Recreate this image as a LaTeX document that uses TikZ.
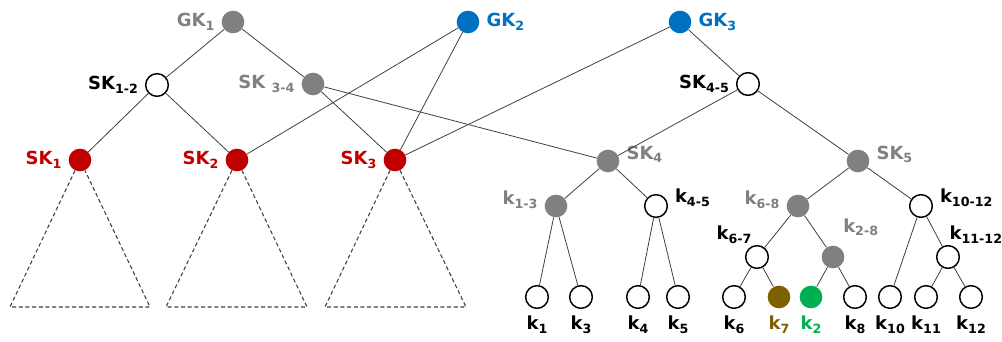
\documentclass[tikz,border=0pt]{standalone}
\usepackage{fontspec}
\setmainfont{DejaVu Sans}
\usepackage{xcolor}
\usetikzlibrary{positioning}
\definecolor{KeyRed}{HTML}{C00000}
\definecolor{KeyBlue}{HTML}{0070C0}
\definecolor{KeyGray}{HTML}{808080}
\definecolor{KeyBrown}{HTML}{7F6000}
\definecolor{KeyGreen}{HTML}{00B050}
\newcommand\ksub[1]{\raisebox{-2.7pt}{\fontsize{9.5}{10}\selectfont#1}}

\begin{document}
\begin{tikzpicture}[x=0.75pt, y=-0.75pt,
                    every node/.style={font=\bfseries\fontsize{13.5}{15}\selectfont},
                    every label/.style={inner sep=1pt},
                    label distance=4pt,
                    key/.style={circle, minimum size=17pt, inner sep=0pt},
                    plain/.style={key, draw=black, line width=1.1pt, fill=white},
                    shared/.style={key, fill=KeyGray},
                    group/.style={key, fill=KeyBlue},
                    session/.style={key, fill=KeyRed},
                    edge/.style={draw=black!75, line width=0.6pt},
                    subtree/.style={draw=black!75, line width=0.8pt, dash pattern=on 3pt off 2pt}]
\useasboundingbox (0,0) rectangle (1002,342);
% group keys
\node[shared, label={[text=KeyGray]left:GK\ksub{1}}] (gk1) at (233,22) {};
\node[group, label={[text=KeyBlue]right:GK\ksub{2}}] (gk2) at (468,22) {};
\node[group, label={[text=KeyBlue]right:GK\ksub{3}}] (gk3) at (680,22) {};
% sub-group keys
\node[plain, label={left:SK\ksub{1-2}}] (sk12) at (157,85) {};
\node[shared, label={[text=KeyGray]left:SK \ksub{3-4}}] (sk34) at (313,84) {};
\node[plain, label={left:SK\ksub{4-5}}] (sk45) at (748,84) {};
\node[session, label={[text=KeyRed]left:SK\ksub{1}}] (sk1) at (80,160) {};
\node[session, label={[text=KeyRed]left:SK\ksub{2}}] (sk2) at (237,160) {};
\node[session, label={[text=KeyRed]left:SK\ksub{3}}] (sk3) at (395,160) {};
\node[shared, label={[text=KeyGray, yshift=5pt]right:SK\ksub{4}}] (sk4) at (608,161) {};
\node[shared, label={[text=KeyGray, yshift=5pt]right:SK\ksub{5}}] (sk5) at (858,161) {};
% inner keys
\node[shared, label={[text=KeyGray, yshift=4.5pt]left:k\ksub{1-3}}] (k13) at (556,206) {};
\node[plain, label={[yshift=6pt]right:k\ksub{4-5}}] (k45) at (656,206) {};
\node[shared, label={[text=KeyGray, yshift=4.5pt]left:k\ksub{6-8}}] (k68) at (798,206) {};
\node[plain, label={[yshift=6pt]right:k\ksub{10-12}}] (k1012) at (921,206) {};
\node[plain, label={[anchor=south east, xshift=-3pt, label distance=0pt]above:k\ksub{6-7}}] (k67) at (757,257) {};
\node[shared, label={[text=KeyGray, anchor=south west, xshift=6.5pt, label distance=6pt]above:k\ksub{2-8}}] (k28) at (833,257) {};
\node[plain, label={[anchor=south west, label distance=0pt]above:k\ksub{11-12}}] (k1112) at (948,257) {};
% leaf keys
\tikzset{leaf/.style={plain, label distance=9pt}}
\node[leaf, label={below:k\ksub{1}}] (k1) at (537,297) {};
\node[leaf, label={below:k\ksub{3}}] (k3) at (581,297) {};
\node[leaf, label={below:k\ksub{4}}] (k4) at (638,297) {};
\node[leaf, label={below:k\ksub{5}}] (k5) at (678,297) {};
\node[leaf, label={below:k\ksub{6}}] (k6) at (734,297) {};
\node[leaf, fill=KeyBrown, draw=none, label={[text=KeyBrown]below:k\ksub{7}}] (k7) at (779,297) {};
\node[leaf, fill=KeyGreen, draw=none, label={[text=KeyGreen]below:k\ksub{2}}] (k2) at (811,297) {};
\node[leaf, label={below:k\ksub{8}}] (k8) at (855,297) {};
\node[leaf, label={below:k\ksub{10}}] (k10) at (890,297) {};
\node[leaf, label={below:k\ksub{11}}] (k11) at (926,297) {};
\node[leaf, label={below:k\ksub{12}}] (k12) at (971,297) {};
% subtree corners
\coordinate (t1a) at (10,307);
\coordinate (t1b) at (150,307);
\coordinate (t2a) at (166,307);
\coordinate (t2b) at (307,307);
\coordinate (t3a) at (325,307);
\coordinate (t3b) at (466,307);

\draw[edge] (gk1) -- (sk12) (gk1) -- (sk34);
\draw[edge] (gk2) -- (sk2) (gk2) -- (sk3);
\draw[edge] (gk3) -- (sk3) (gk3) -- (sk45);
\draw[edge] (sk12) -- (sk1) (sk12) -- (sk2);
\draw[edge] (sk34) -- (sk3) (sk34) -- (sk4);
\draw[edge] (sk45) -- (sk4) (sk45) -- (sk5);
\draw[edge] (sk4) -- (k13) (sk4) -- (k45);
\draw[edge] (sk5) -- (k68) (sk5) -- (k1012);
\draw[edge] (k13) -- (k1) (k13) -- (k3);
\draw[edge] (k45) -- (k4) (k45) -- (k5);
\draw[edge] (k68) -- (k67) (k68) -- (k28);
\draw[edge] (k67) -- (k6) (k67) -- (k7);
\draw[edge] (k28) -- (k2) (k28) -- (k8);
\draw[edge] (k1012) -- (k10) (k1012) -- (k1112);
\draw[edge] (k1112) -- (k11) (k1112) -- (k12);

\draw[subtree] (sk1) -- (t1a) -- (t1b) -- (sk1);
\draw[subtree] (sk2) -- (t2a) -- (t2b) -- (sk2);
\draw[subtree] (sk3) -- (t3a) -- (t3b) -- (sk3);
\end{tikzpicture}
\end{document}
